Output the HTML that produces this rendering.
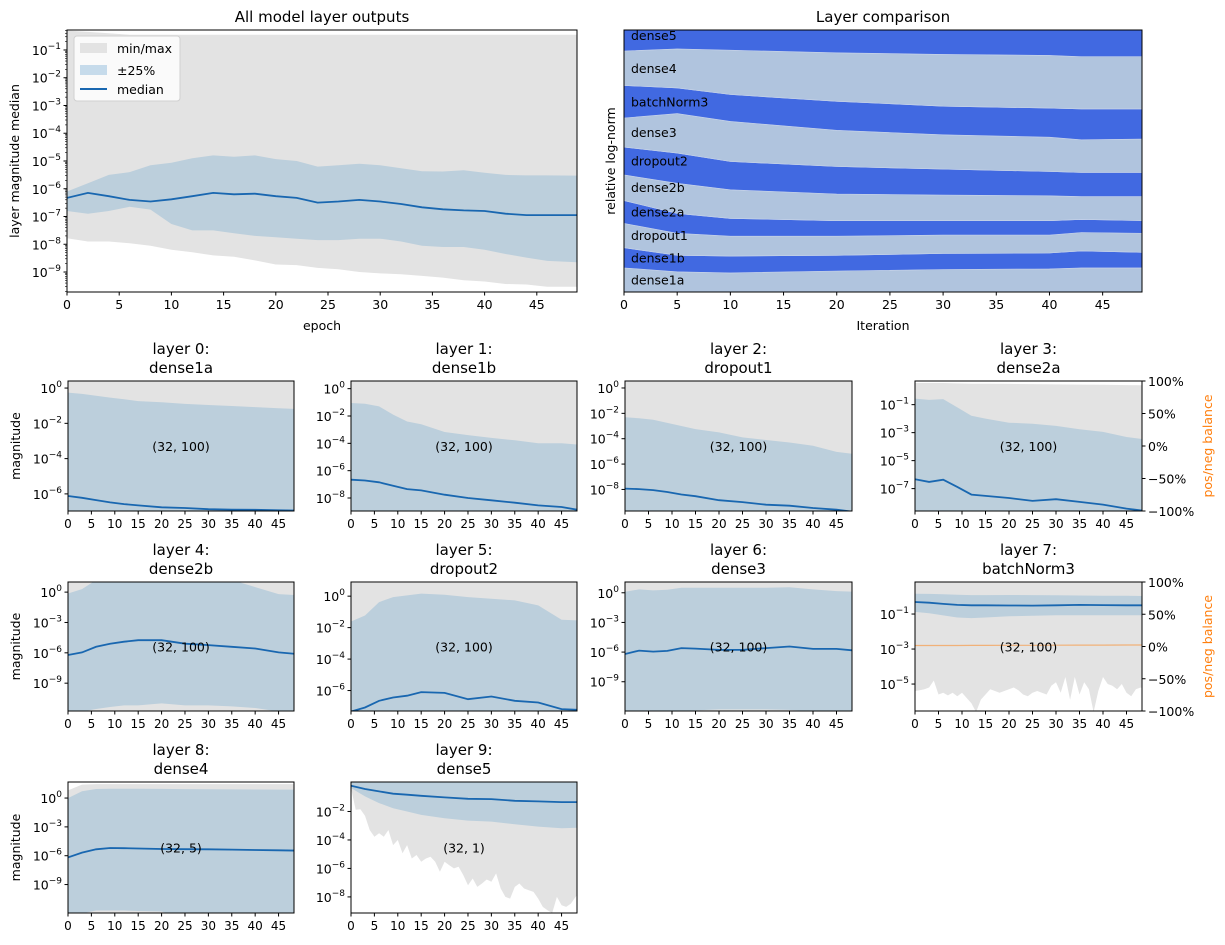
<!DOCTYPE html>
<html><head><meta charset="utf-8"><style>
html,body{margin:0;padding:0;background:#fff;}
svg{display:block;font-family:"DejaVu Sans","Liberation Sans",sans-serif;}
</style></head><body>
<svg id="fig" width="1225" height="945" viewBox="0 0 1225 945" xmlns="http://www.w3.org/2000/svg"></svg>
<script>
// ---------- DATA (log10 values) ----------
const epochsA = [0,2,4,6,8,10,12,14,16,18,20,22,24,26,28,30,32,34,36,38,40,42,44,46,49];
const allMax = [-0.3,-0.35,-0.4,-0.45,-0.45,-0.45,-0.45,-0.45,-0.45,-0.45,-0.45,-0.45,-0.45,-0.45,-0.45,-0.45,-0.45,-0.45,-0.45,-0.45,-0.45,-0.45,-0.45,-0.45,-0.45];
const allQ75 = [-6.1,-5.8,-5.5,-5.4,-5.15,-5.06,-4.9,-4.8,-4.85,-4.8,-4.93,-5.0,-5.2,-5.15,-5.1,-5.15,-5.26,-5.37,-5.38,-5.33,-5.42,-5.5,-5.52,-5.52,-5.53];
const allMed = [-6.33,-6.15,-6.27,-6.4,-6.46,-6.38,-6.27,-6.15,-6.2,-6.18,-6.27,-6.33,-6.5,-6.46,-6.4,-6.46,-6.55,-6.67,-6.74,-6.78,-6.8,-6.9,-6.95,-6.95,-6.95];
const allQ25 = [-6.8,-6.9,-6.8,-6.65,-6.75,-7.27,-7.5,-7.5,-7.6,-7.7,-7.75,-7.8,-7.85,-7.85,-7.8,-7.8,-7.9,-8.05,-8.1,-8.1,-8.2,-8.35,-8.48,-8.6,-8.65];
const allMin = [-7.78,-7.9,-7.9,-7.96,-8.05,-8.2,-8.29,-8.4,-8.45,-8.58,-8.73,-8.75,-8.85,-8.9,-9.0,-9.05,-9.08,-9.14,-9.2,-9.3,-9.34,-9.43,-9.45,-9.53,-9.53];

const layerNames = ["dense1a","dense1b","dropout1","dense2a","dense2b","dropout2","dense3","batchNorm3","dense4","dense5"];
const epochsB = [0,5,10,20,30,40,43,49];
const bound1 = [0.092,0.077,0.073,0.080,0.086,0.088,0.092,0.092];
const bound2 = [0.169,0.140,0.137,0.140,0.147,0.149,0.157,0.151];
const bound3 = [0.262,0.224,0.213,0.213,0.217,0.217,0.227,0.224];
const bound4 = [0.349,0.300,0.281,0.272,0.272,0.272,0.277,0.272];
const bound5 = [0.447,0.415,0.390,0.374,0.370,0.367,0.364,0.364];
const bound6 = [0.553,0.530,0.498,0.479,0.469,0.460,0.456,0.456];
const bound7 = [0.664,0.681,0.651,0.617,0.600,0.591,0.581,0.584];
const bound8 = [0.788,0.779,0.754,0.728,0.709,0.702,0.699,0.699];
const bound9 = [0.920,0.928,0.923,0.913,0.907,0.903,0.898,0.898];

const epochsS = [0,3,6,9,12,15,20,25,30,35,40,45,49];
const epochsFull = [0,1,2,3,4,5,6,7,8,9,10,11,12,13,14,15,16,17,18,19,20,21,22,23,24,25,26,27,28,29,30,31,32,33,34,35,36,37,38,39,40,41,42,43,44,45,46,47,48,49];
const shapes = ["(32, 100)","(32, 100)","(32, 100)","(32, 100)","(32, 100)","(32, 100)","(32, 100)","(32, 100)","(32, 5)","(32, 1)"];

const l0mx = [1,1,1,1,1,1,1,1,1,1,1,1,1];
const l0q75 = [-0.26,-0.33,-0.44,-0.54,-0.64,-0.74,-0.8,-0.9,-0.96,-1.02,-1.08,-1.14,-1.19];
const l0med = [-6.12,-6.22,-6.35,-6.48,-6.58,-6.65,-6.76,-6.8,-6.87,-6.89,-6.9,-6.93,-6.95];
const l0q25 = [-7.3,-7.3,-7.3,-7.3,-7.3,-7.3,-7.3,-7.3,-7.3,-7.3,-7.3,-7.3,-7.3];
const l0mn = [-9,-9,-9,-9,-9,-9,-9,-9,-9,-9,-9,-9,-9];

const l1mx = [1,1,1,1,1,1,1,1,1,1,1,1,1];
const l1q75 = [-1.05,-1.1,-1.3,-1.9,-2.4,-2.6,-3.17,-3.4,-3.6,-3.78,-4.0,-4.0,-4.1];
const l1med = [-6.66,-6.72,-6.85,-7.1,-7.35,-7.44,-7.76,-8.0,-8.17,-8.34,-8.54,-8.66,-8.9];
const l1q25 = [-10,-10,-10,-10,-10,-10,-10,-10,-10,-10,-10,-10,-10];
const l1mn = [-11,-11,-11,-11,-11,-11,-11,-11,-11,-11,-11,-11,-11];

const l2mx = [1,1,1,1,1,1,1,1,1,1,1,1,1];
const l2q75 = [-2.31,-2.38,-2.5,-2.75,-3.0,-3.24,-3.5,-3.9,-4.1,-4.3,-4.56,-5.04,-5.22];
const l2med = [-7.93,-7.97,-8.05,-8.2,-8.4,-8.53,-8.85,-9.0,-9.2,-9.28,-9.46,-9.6,-9.78];
const l2q25 = [-11,-11,-11,-11,-11,-11,-11,-11,-11,-11,-11,-11,-11];
const l2mn = [-12,-12,-12,-12,-12,-12,-12,-12,-12,-12,-12,-12,-12];

const l3mx = [0.55,0.55,0.55,0.52,0.5,0.5,0.48,0.47,0.45,0.43,0.42,0.4,0.38];
const l3q75 = [-0.57,-0.66,-0.6,-1.2,-1.8,-2.0,-2.29,-2.36,-2.52,-2.76,-2.95,-3.31,-3.48];
const l3med = [-6.33,-6.52,-6.36,-6.88,-7.43,-7.52,-7.67,-7.88,-7.76,-7.95,-8.14,-8.43,-8.6];
const l3q25 = [-10,-10,-10,-10,-10,-10,-10,-10,-10,-10,-10,-10,-10];
const l3mn = [-11,-11,-11,-11,-11,-11,-11,-11,-11,-11,-11,-11,-11];

const l4mx = [1.5,1.5,1.5,1.5,1.5,1.5,1.5,1.5,1.5,1.5,1.5,1.5,1.5];
const l4q75 = [-0.14,0.3,1.2,1.2,1.2,1.2,1.2,1.2,1.2,1.2,0.5,-0.2,-0.3];
const l4med = [-6.22,-5.96,-5.4,-5.1,-4.9,-4.75,-4.75,-5.1,-5.24,-5.4,-5.57,-5.96,-6.12];
const l4q25 = [-12,-11.8,-11.55,-11.35,-11.2,-11.2,-11.0,-11.2,-11.2,-11.3,-11.45,-11.8,-12];
const l4mn = [-13,-13,-13,-13,-13,-13,-13,-13,-13,-13,-13,-13,-13];

const l5mx = [0.85,0.85,0.85,0.85,0.85,0.85,0.85,0.85,0.85,0.85,0.85,0.85,0.85];
const l5q75 = [-1.61,-1.23,-0.38,-0.06,0.05,0.16,0.09,-0.06,-0.16,-0.27,-0.59,-1.5,-1.55];
const l5med = [-7.33,-7.08,-6.65,-6.44,-6.33,-6.1,-6.15,-6.55,-6.38,-6.65,-6.76,-7.18,-7.23];
const l5q25 = [-9,-9,-9,-9,-9,-9,-9,-9,-9,-9,-9,-9,-9];
const l5mn = [-10,-10,-10,-10,-10,-10,-10,-10,-10,-10,-10,-10,-10];

const l6mx = [1.3,1.3,1.3,1.3,1.3,1.3,1.3,1.3,1.3,1.3,1.3,1.3,1.3];
const l6q75 = [0.1,0.34,0.24,0.3,0.51,0.51,0.5,0.5,0.5,0.55,0.34,0.17,0.1];
const l6med = [-6.19,-5.85,-5.95,-5.88,-5.6,-5.65,-5.78,-5.78,-5.6,-5.44,-5.68,-5.68,-5.85];
const l6q25 = [-12.2,-12.2,-12.2,-12.1,-12.0,-11.9,-11.8,-11.8,-11.8,-11.85,-12.0,-12.2,-12.2];
const l6mn = [-13,-13,-13,-13,-13,-13,-13,-13,-13,-13,-13,-13,-13];

const l7mx = [1,1,1,1,1,1,1,1,1,1,1,1,1];
const l7q75 = [0.16,0.15,0.13,0.1,0.08,0.08,0.09,0.08,0.07,0.06,0.05,0.04,0.03];
const l7med = [-0.31,-0.35,-0.42,-0.48,-0.5,-0.5,-0.51,-0.52,-0.5,-0.48,-0.49,-0.5,-0.5];
const l7q25 = [-0.88,-0.95,-1.08,-1.2,-1.23,-1.2,-1.13,-1.1,-1.07,-1.07,-1.07,-1.07,-1.07];
const l7mn = [-5.4,-5.35,-5.3,-5.2,-4.8,-5.6,-5.5,-5.65,-5.5,-5.7,-5.5,-5.8,-6.1,-6.6,-5.9,-5.6,-5.3,-5.4,-5.5,-5.4,-5.3,-5.2,-5.35,-5.6,-5.7,-5.5,-5.4,-5.5,-5.6,-5.1,-4.9,-5.5,-4.6,-5.9,-4.6,-5.6,-4.9,-5.3,-6.6,-5.4,-4.6,-5.0,-5.1,-5.3,-5.0,-5.5,-5.7,-5.3,-5.2,-5.3];
const l7balance = [1.5,1.5,1.6,1.6,1.7,1.7,1.8,1.9,2.0,2.1,2.2,2.3,2.4];

const l8mx = [0.8,1.4,1.45,1.45,1.45,1.45,1.45,1.45,1.45,1.45,1.45,1.45,1.45];
const l8q75 = [0.0,0.7,0.94,0.97,0.97,0.96,0.95,0.93,0.92,0.9,0.89,0.88,0.87];
const l8med = [-6.17,-5.68,-5.33,-5.2,-5.22,-5.25,-5.3,-5.32,-5.33,-5.36,-5.4,-5.44,-5.47];
const l8q25 = [-12.5,-12,-11.7,-11.7,-11.7,-11.75,-11.8,-12.5,-12.5,-12.5,-12.5,-12.5,-12.5];
const l8mn = [-13,-13,-13,-13,-13,-13,-13,-13,-13,-13,-13,-13,-13];

const l9mx = [1,1,1,1,1,1,1,1,1,1,1,1,1];
const l9q75 = [0.5,0.5,0.5,0.5,0.5,0.5,0.5,0.5,0.5,0.5,0.5,0.5,0.5];
const l9med = [-0.19,-0.42,-0.59,-0.75,-0.82,-0.9,-1.01,-1.11,-1.13,-1.25,-1.29,-1.34,-1.34];
const l9q25 = [-0.35,-0.94,-1.41,-1.77,-2.0,-2.24,-2.47,-2.64,-2.71,-2.9,-3.06,-3.18,-3.13];
const l9mn = [-0.35,-1.88,-1.84,-2.3,-3.3,-3.77,-3.53,-3.77,-3.3,-4.36,-4.0,-4.94,-4.36,-5.3,-5.06,-5.53,-5.3,-5.18,-5.53,-6.24,-5.53,-5.77,-6.0,-5.88,-6.47,-7.18,-6.71,-7.3,-7.06,-6.78,-6.94,-6.35,-7.41,-8.0,-8.12,-7.3,-7.06,-7.41,-7.53,-7.65,-8.12,-8.7,-8.94,-9.13,-8.0,-8.59,-8.7,-8.47,-8.0,-7.65];

const xTicks = [0,5,10,15,20,25,30,35,40,45];
const balanceTicks = [100,50,0,-50,-100];

// ---------- RENDERING ----------
const NS = "http://www.w3.org/2000/svg";
const svg = document.getElementById("fig");
function mk(tag, attrs, parent){
  const e = document.createElementNS(NS, tag);
  for (const k in attrs) e.setAttribute(k, attrs[k]);
  (parent||svg).appendChild(e);
  return e;
}
const GRAY = "#e3e3e3", BLUE = "#bccfdc", LINE = "#1967b0";
let clipId = 0;

function makeAxes(box, ymin, ymax, xmax){
  const ax = {x0:box[0], x1:box[2], y0:box[1], y1:box[3], ymin, ymax, xmax};
  ax.sx = e => ax.x0 + e / ax.xmax * (ax.x1 - ax.x0);
  ax.sy = v => ax.y0 + (ax.ymax - v) / (ax.ymax - ax.ymin) * (ax.y1 - ax.y0);
  const id = "clip" + (clipId++);
  const cp = mk("clipPath", {id});
  mk("rect", {x:ax.x0, y:ax.y0, width:ax.x1-ax.x0, height:ax.y1-ax.y0}, cp);
  ax.clip = "url(#" + id + ")";
  return ax;
}
function areaPath(ax, epU, up, epL, lo){
  let d = "";
  epU.forEach((e,i)=>{ d += (i?"L":"M") + ax.sx(e).toFixed(1) + "," + ax.sy(up[i]).toFixed(1); });
  for (let i = epL.length-1; i >= 0; i--) d += "L" + ax.sx(epL[i]).toFixed(1) + "," + ax.sy(lo[i]).toFixed(1);
  return d + "Z";
}
function linePath(ax, ep, v){
  let d = "";
  ep.forEach((e,i)=>{ d += (i?"L":"M") + ax.sx(e).toFixed(1) + "," + ax.sy(v[i]).toFixed(1); });
  return d;
}
function frame(ax, parent){
  const r = mk("rect", {x:ax.x0, y:ax.y0, width:ax.x1-ax.x0, height:ax.y1-ax.y0, fill:"none", stroke:"#000", "stroke-width":1}, parent);
  
  
}
function xAxis(ax, parent, fs){
  xTicks.forEach(t=>{
    const x = ax.sx(t);
    mk("line", {x1:x, x2:x, y1:ax.y1, y2:ax.y1+3.5, stroke:"#000"}, parent);
    const tx = mk("text", {x:x, y:ax.y1+17, "font-size":fs, "text-anchor":"middle"}, parent);
    tx.textContent = t;
    
    
  });
}
function yLogAxis(ax, parent, decades, minor){
  if (minor){
    for (let d = Math.floor(ax.ymin); d <= Math.ceil(ax.ymax); d++){
      for (let m = 2; m <= 9; m++){
        const v = d + Math.log10(m);
        if (v < ax.ymin || v > ax.ymax) continue;
        const y = ax.sy(v);
        mk("line", {x1:ax.x0-2, x2:ax.x0, y1:y, y2:y, stroke:"#000", "stroke-width":0.6}, parent);
      }
    }
  }
  decades.forEach(d=>{
    const y = ax.sy(d);
    mk("line", {x1:ax.x0-3.5, x2:ax.x0, y1:y, y2:y, stroke:"#000"}, parent);
    const t = mk("text", {x:ax.x0-6, y:y+5, "font-size":12.5, "text-anchor":"end"}, parent);
    
    
    t.appendChild(document.createTextNode("10"));
    const sp = mk("tspan", {dy:-6, "font-size":9}, t);
    sp.textContent = (d === 0 ? "0" : "\u2212" + Math.abs(d));
  });
}
function text(str, x, y, fs, attrs, parent, name){
  const t = mk("text", Object.assign({x, y, "font-size":fs}, attrs||{}), parent);
  t.textContent = str;
  
  
  return t;
}

// ---------- Panel A ----------
(function(){
  const g = mk("g", {});
  
  
  const ax = makeAxes([67,30,577,292], -9.72, -0.28, 48.85);
  const gray = mk("path", {d:areaPath(ax, epochsA, allMax, epochsA, allMin), fill:GRAY, "clip-path":ax.clip}, g);
  
  
  const blue = mk("path", {d:areaPath(ax, epochsA, allQ75, epochsA, allQ25), fill:BLUE, "clip-path":ax.clip}, g);
  
  
  const med = mk("path", {d:linePath(ax, epochsA, allMed), fill:"none", stroke:LINE, "stroke-width":1.8, "clip-path":ax.clip}, g);
  
  
  frame(ax, g);
  xAxis(ax, g, 12.5);
  yLogAxis(ax, g, [-1,-2,-3,-4,-5,-6,-7,-8,-9], true);
  text("All model layer outputs", 322, 22, 15, {"text-anchor":"middle"}, g, "chart-title");
  text("epoch", 322, 330, 12.5, {"text-anchor":"middle"}, g, "x-axis-title");
  text("layer magnitude median", 19, 161, 12.5, {"text-anchor":"middle", transform:"rotate(-90 19 161)"}, g, "y-axis-title");
  const lg = mk("g", {}, g);
  
  
  mk("rect", {x:74, y:36, width:106, height:65, rx:3, fill:"#fff", "fill-opacity":0.8, stroke:"#d0d0d0"}, lg);
  const p1 = mk("rect", {x:80, y:43, width:27, height:10, fill:GRAY}, lg);
  
  
  text("min/max", 117, 53, 12.5, {}, lg, "legend-label-minmax");
  const p2 = mk("rect", {x:80, y:65, width:27, height:10, fill:"#c6dbeb"}, lg);
  
  
  text("\u00b125%", 117, 75, 12.5, {}, lg, "legend-label-quartile");
  const p3 = mk("line", {x1:80, x2:107, y1:89, y2:89, stroke:LINE, "stroke-width":2}, lg);
  
  
  text("median", 117, 94, 12.5, {}, lg, "legend-label-median");
})();

// ---------- Panel B ----------
(function(){
  const g = mk("g", {});
  
  
  const ax = makeAxes([624,30,1142,292], 0, 1, 48.7);
  const zero = epochsB.map(()=>0), one = epochsB.map(()=>1);
  const bounds = [zero, bound1, bound2, bound3, bound4, bound5, bound6, bound7, bound8, bound9, one];
  for (let i = 0; i < 10; i++){
    const p = mk("path", {d:areaPath(ax, epochsB, bounds[i+1], epochsB, bounds[i]), fill:(i%2===0?"#b0c4de":"#4169e1"), stroke:"#c8d4ea", "stroke-width":0.6, "clip-path":ax.clip}, g);
    
    
  }
  for (let i = 0; i < 10; i++){
    const yTop = ax.sy(bounds[i+1][0]);
    const yBot = ax.sy(bounds[i][0]);
    const ly = i === 9 ? ax.y0 + 10 : (yTop+yBot)/2 + 4.5;
    text(layerNames[i], 631, ly, 12.5, {}, g, "band-label-" + layerNames[i]);
  }
  frame(ax, g);
  xAxis(ax, g, 12.5);
  text("Layer comparison", 883, 22, 15, {"text-anchor":"middle"}, g, "chart-title");
  text("Iteration", 883, 330, 12.5, {"text-anchor":"middle"}, g, "x-axis-title");
  text("relative log-norm", 615, 161, 12.5, {"text-anchor":"middle", transform:"rotate(-90 615 161)"}, g, "y-axis-title");
})();

// ---------- small panels ----------
const cols = [[68,294],[351,577],[625,852],[915,1142]];
const rows = [[381,511],[582,711],[782,913]];
const series = [
  [l0mx,l0q75,l0med,l0q25,l0mn,epochsS],
  [l1mx,l1q75,l1med,l1q25,l1mn,epochsS],
  [l2mx,l2q75,l2med,l2q25,l2mn,epochsS],
  [l3mx,l3q75,l3med,l3q25,l3mn,epochsS],
  [l4mx,l4q75,l4med,l4q25,l4mn,epochsS],
  [l5mx,l5q75,l5med,l5q25,l5mn,epochsS],
  [l6mx,l6q75,l6med,l6q25,l6mn,epochsS],
  [l7mx,l7q75,l7med,l7q25,l7mn,epochsFull],
  [l8mx,l8q75,l8med,l8q25,l8mn,epochsS],
  [l9mx,l9q75,l9med,l9q25,l9mn,epochsFull]
];
const yDomains = [[-6.97,0.4],[-8.95,0.56],[-9.7,0.55],[-8.6,0.69],[-11.75,1.0],[-7.3,0.9],[-11.96,1.09],[-6.54,0.83],[-11.96,1.67],[-9.13,0.07]];
const yDecades = [[0,-2,-4,-6],[0,-2,-4,-6,-8],[0,-2,-4,-6,-8],[-1,-3,-5,-7],[0,-3,-6,-9],[0,-2,-4,-6],[0,-3,-6,-9],[-1,-3,-5],[0,-3,-6,-9],[-2,-4,-6,-8]];

for (let i = 0; i < 10; i++){
  const c = cols[i%4], r = rows[Math.floor(i/4)];
  const g = mk("g", {});
  
  
  const ax = makeAxes([c[0], r[0], c[1], r[1]], yDomains[i][0], yDomains[i][1], 48.3);
  const s = series[i];
  const gr = mk("path", {d:areaPath(ax, epochsS, s[0], s[5], s[4]), fill:GRAY, "clip-path":ax.clip}, g);
  
  
  const bl = mk("path", {d:areaPath(ax, epochsS, s[1], epochsS, s[3]), fill:BLUE, "clip-path":ax.clip}, g);
  
  
  const ln = mk("path", {d:linePath(ax, epochsS, s[2]), fill:"none", stroke:LINE, "stroke-width":1.8, "clip-path":ax.clip}, g);
  
  
  if (i === 7){
    const by = v => ax.y0 + (100 - v) / 200 * (ax.y1 - ax.y0);
    let d = "";
    epochsS.forEach((e,k)=>{ d += (k?"L":"M") + ax.sx(e).toFixed(1) + "," + by(l7balance[k]).toFixed(1); });
    const bal = mk("path", {d, fill:"none", stroke:"#ff7f0e", "stroke-opacity":0.5, "stroke-width":1.2, "clip-path":ax.clip}, g);
    
    
  }
  frame(ax, g);
  xAxis(ax, g, 12);
  yLogAxis(ax, g, yDecades[i], false);
  const cx = (c[0]+c[1])/2;
  text("layer " + i + ":", cx, r[0]-27, 15, {"text-anchor":"middle"}, g, "panel-title-index");
  text(layerNames[i], cx, r[0]-8, 15, {"text-anchor":"middle"}, g, "panel-title-name");
  text(shapes[i], cx, (r[0]+r[1])/2 + 5, 12.5, {"text-anchor":"middle"}, g, "shape-label");
  if (i%4 === 0){
    const my = (r[0]+r[1])/2;
    text("magnitude", 20, my, 12.5, {"text-anchor":"middle", transform:"rotate(-90 20 " + my + ")"}, g, "y-axis-title");
  }
  if (i === 3 || i === 7){
    balanceTicks.forEach(v=>{
      const y = ax.y0 + (100 - v) / 200 * (ax.y1 - ax.y0);
      mk("line", {x1:ax.x1, x2:ax.x1+3.5, y1:y, y2:y, stroke:"#000"}, g);
      text((v<0?"\u2212":"") + Math.abs(v) + "%", ax.x1+6, y+5, 12.5, {}, g, "balance-tick-label");
    });
    const my = (r[0]+r[1])/2;
    text("pos/neg balance", 1212, my, 12.5, {"text-anchor":"middle", fill:"#ff7f0e", transform:"rotate(-90 1212 " + my + ")"}, g, "balance-axis-title");
  }
}
</script>
</body></html>
